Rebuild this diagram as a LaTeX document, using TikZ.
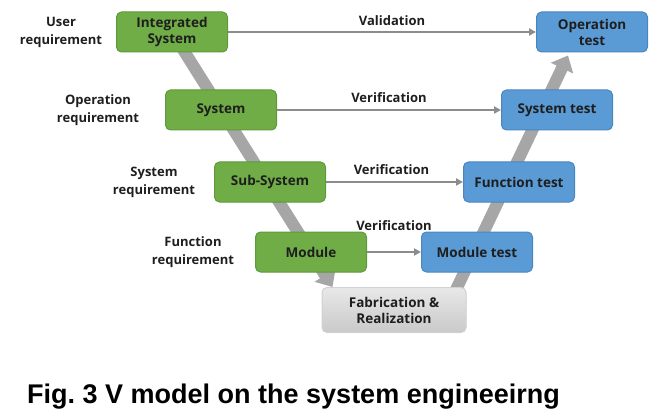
\documentclass[tikz,border=0pt]{standalone}
\usepackage{fontspec}
\setmainfont{Open Sans}
\newfontfamily\capfont{Liberation Sans}
\usetikzlibrary{arrows.meta,backgrounds,calc}

\definecolor{boxgreen}{HTML}{70AD47}
\definecolor{greenedge}{HTML}{5E9A3A}
\definecolor{boxblue}{HTML}{5B9BD5}
\definecolor{blueedge}{HTML}{4A86BE}
\definecolor{bandgray}{HTML}{A6A6A6}
\definecolor{linkgray}{HTML}{8C8C8C}
\definecolor{labeltext}{HTML}{1E1E1E}

\tikzset{
  greenbox/.style={draw=greenedge, line width=1pt, fill=boxgreen, rounded corners=5pt,
    minimum width=111pt, minimum height=40pt, align=center, inner sep=2pt,
    font=\bfseries\fontsize{13.5}{16}\selectfont, text=labeltext},
  bluebox/.style={greenbox, draw=blueedge, fill=boxblue},
  fabbox/.style={greenbox, draw=gray!35, top color=gray!18, bottom color=gray!42,
    minimum width=144pt, minimum height=45pt},
  reqlabel/.style={align=center, font=\bfseries\fontsize{13}{18}\selectfont, text=labeltext},
  linklabel/.style={font=\bfseries\fontsize{13}{15}\selectfont, text=labeltext},
  link/.style={draw=linkgray, line width=2pt, -{Triangle[length=7pt,width=7pt]}},
  vband/.style={draw=bandgray, line width=12pt, -{Triangle[length=14pt,width=24pt]}},
}

\begin{document}
\begin{tikzpicture}[x=1pt, y=-1pt]
  \useasboundingbox (0,0) rectangle (667,417);

  % left side of the V
  \node[greenbox] (isys) at (172,32) {Integrated\\System};
  \node[greenbox] (sys) at (221,110) {System};
  \node[greenbox] (subsys) at (270,182) {Sub-System};
  \node[greenbox] (module) at (311,252) {Module};

  % bottom
  \node[fabbox] (fab) at (394,310) {Fabrication \&\\Realization};

  % right side of the V
  \node[bluebox] (modtest) at (477,252) {Module test};
  \node[bluebox] (functest) at (519,182) {Function test};
  \node[bluebox] (systest) at (557,110) {System test};
  \node[bluebox] (optest) at (592,32) {Operation\\test};

  % requirements
  \node[reqlabel] (userreq) at (61,32) {User\\requirement};
  \node[reqlabel] (opreq) at (98,110) {Operation\\requirement};
  \node[reqlabel] (sysreq) at (154,182) {System\\requirement};
  \node[reqlabel] (funcreq) at (193,252) {Function\\requirement};

  % V arrows
  \begin{scope}[on background layer]
    \draw[vband] (isys.center) -- ($(fab.north west)+(11,0)$);
    \draw[vband] ($(fab.north east)+(-14,10)$) -- ($(optest.south)+(-24,3)$);
  \end{scope}

  % validation / verification
  \draw[link] (isys) -- node[linklabel, above=2pt, xshift=10pt] (valid) {Validation} (optest);
  \draw[link] (sys) -- node[linklabel, above=3pt] (verif1) {Verification} (systest);
  \draw[link] (subsys) -- node[linklabel, above=3pt, xshift=-3pt] (verif2) {Verification} (functest);
  \draw[link] (module) -- node[linklabel, above=17pt] (verif3) {Verification} (modtest);

  % caption
  \node[anchor=base west, inner sep=0pt, font=\capfont\bfseries\fontsize{27}{30}\selectfont]
    (caption) at (27,403) {Fig.\ 3 V model on the system engineeirng};
\end{tikzpicture}
\end{document}
